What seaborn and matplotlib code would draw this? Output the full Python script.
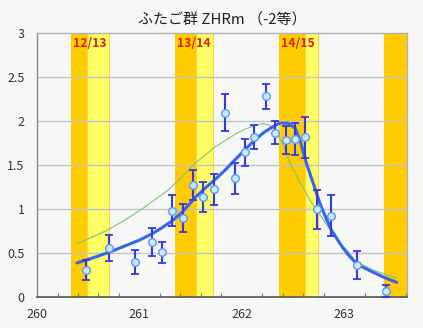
import numpy as np
import pandas as pd
import matplotlib
matplotlib.use("Agg")
import matplotlib.pyplot as plt
import seaborn as sns

# ---- data ----
obs_x = [260.475, 260.705, 260.96, 261.12, 261.22, 261.32, 261.42, 261.525, 261.62, 261.73,
         261.83, 261.93, 262.03, 262.12, 262.23, 262.32, 262.43, 262.52, 262.62, 262.73,
         262.87, 263.12, 263.41]
obs_y = [0.31, 0.557, 0.40, 0.625, 0.51, 0.985, 0.905, 1.276, 1.136, 1.227,
         2.098, 1.352, 1.647, 1.82, 2.284, 1.87, 1.787, 1.80, 1.818, 1.00,
         0.927, 0.367, 0.07]
obs_err = [0.11, 0.15, 0.135, 0.16, 0.12, 0.18, 0.16, 0.165, 0.17, 0.175,
           0.207, 0.175, 0.15, 0.14, 0.14, 0.13, 0.155, 0.185, 0.23, 0.22,
           0.235, 0.16, 0.07]

fit_x = [260.39, 260.55, 260.70, 260.85, 261.00, 261.12, 261.22, 261.32, 261.42, 261.54,
         261.64, 261.74, 261.84, 261.93, 262.03, 262.13, 262.21, 262.29, 262.37, 262.45,
         262.52, 262.57, 262.63, 262.70, 262.76, 262.82, 262.87, 262.93, 262.98, 263.04,
         263.12, 263.20, 263.28, 263.40, 263.51]
fit_y = [0.39, 0.45, 0.51, 0.58, 0.65, 0.72, 0.79, 0.87, 0.97, 1.13,
         1.24, 1.34, 1.45, 1.56, 1.68, 1.79, 1.87, 1.93, 1.98, 1.98,
         1.92, 1.77, 1.52, 1.28, 1.07, 0.90, 0.77, 0.66, 0.57, 0.48,
         0.38, 0.33, 0.285, 0.22, 0.17]

ref_x = [260.39, 260.55, 260.70, 260.86, 261.02, 261.14, 261.27, 261.40, 261.54, 261.74,
         261.93, 262.03, 262.13, 262.20, 262.26, 262.30, 262.35, 262.40, 262.47, 262.57,
         262.66, 262.73, 262.86, 262.96, 263.05, 263.12, 263.28, 263.50]
ref_y = [0.61, 0.69, 0.77, 0.88, 1.00, 1.10, 1.21, 1.35, 1.52, 1.71,
         1.85, 1.91, 1.955, 1.975, 1.96, 1.93, 1.84, 1.74, 1.52, 1.30,
         1.11, 0.99, 0.77, 0.61, 0.50, 0.40, 0.31, 0.22]

band_labels = ["12/13", "13/14", "14/15", ""]
band_orange = [(260.33, 260.485), (261.35, 261.55), (262.36, 262.615), (263.39, 263.62)]
band_yellow = [(260.485, 260.70), (261.55, 261.715), (262.615, 262.74), None]

xticks = [260, 261, 262, 263]
yticks = [0, 0.5, 1, 1.5, 2, 2.5, 3]
ytick_labels = ["0", "0.5", "1", "1.5", "2", "2.5", "3"]

title = "ふたご群 ZHRm （-2等）"

# ---- style ----
sns.set_theme(style="white")
plt.rcParams['font.family'] = ['Noto Sans CJK JP', 'DejaVu Sans']
BG = "#f7f7f7"

fig = plt.figure(figsize=(4.23, 3.28), dpi=100, facecolor=BG)
ax = fig.add_axes([0.0875, 0.0936, 0.8745, 0.8049])
ax.set_facecolor(BG)

ax.set_xlim(260, 263.61)
ax.set_ylim(0, 3)

# bands
for (o, yl, lab) in zip(band_orange, band_yellow, band_labels):
    ax.axvspan(o[0], o[1], color="#ffcc00", lw=0, zorder=0.5)
    if yl is not None:
        ax.axvspan(yl[0], yl[1], facecolor="#ffff66", edgecolor="#ffd24d", lw=0.8, zorder=0.5)
        ax.text((o[0] + yl[1]) / 2, 2.88, lab, ha="center", va="center",
                fontsize=8.8, fontweight="bold", color="#dd2200", zorder=5,
                family=['Noto Sans CJK JP', 'DejaVu Sans'])

# grid
for yv in yticks[1:-1]:
    ax.axhline(yv, color="#c4c4c4", lw=1.0, zorder=1)

# curves
ref_df = pd.DataFrame({"x": ref_x, "y": ref_y})
fit_df = pd.DataFrame({"x": fit_x, "y": fit_y})
sns.lineplot(data=ref_df, x="x", y="y", ax=ax, color="#77c777", lw=0.8,
             sort=False, estimator=None, zorder=2)
sns.lineplot(data=fit_df, x="x", y="y", ax=ax, color="#3366ee", lw=2.2,
             sort=False, estimator=None, zorder=3)

# observations
ax.errorbar(obs_x, obs_y, yerr=obs_err, fmt="none", ecolor="#3838e0",
            elinewidth=1.5, capsize=3, capthick=1.3, zorder=4)
obs_df = pd.DataFrame({"x": obs_x, "y": obs_y})
sns.scatterplot(data=obs_df, x="x", y="y", ax=ax, s=30, color="#cfe8ff",
                edgecolor="#5599ff", linewidth=1.0, zorder=6, clip_on=False)

# axes cosmetics
ax.set_xlabel("")
ax.set_ylabel("")
ax.set_xticks(xticks)
ax.set_xticklabels([str(t) for t in xticks])
ax.set_xticks(np.arange(260, 263.61, 0.2), minor=True)
ax.set_yticks(yticks)
ax.set_yticklabels(ytick_labels)
ax.tick_params(axis="x", which="major", direction="inout", length=6, width=1,
               color="#555555", labelsize=9, pad=5, labelcolor="#333333")
ax.tick_params(axis="x", which="minor", direction="in", length=3, width=0.8,
               color="#777777", bottom=True)
ax.tick_params(axis="y", length=0, labelsize=9, pad=9, labelcolor="#333333")

for side in ["top", "right"]:
    ax.spines[side].set_color("#b0b0b0")
    ax.spines[side].set_linewidth(1.0)
ax.spines["left"].set_color("#888888")
ax.spines["bottom"].set_color("#555555")
ax.spines["left"].set_linewidth(1.0)
ax.spines["bottom"].set_linewidth(1.2)

ax.set_title(title, fontsize=10.8, pad=6, color="#222222",
             family=['Noto Sans CJK JP', 'DejaVu Sans'])

fig.savefig("out.png", dpi=100, facecolor=BG)
